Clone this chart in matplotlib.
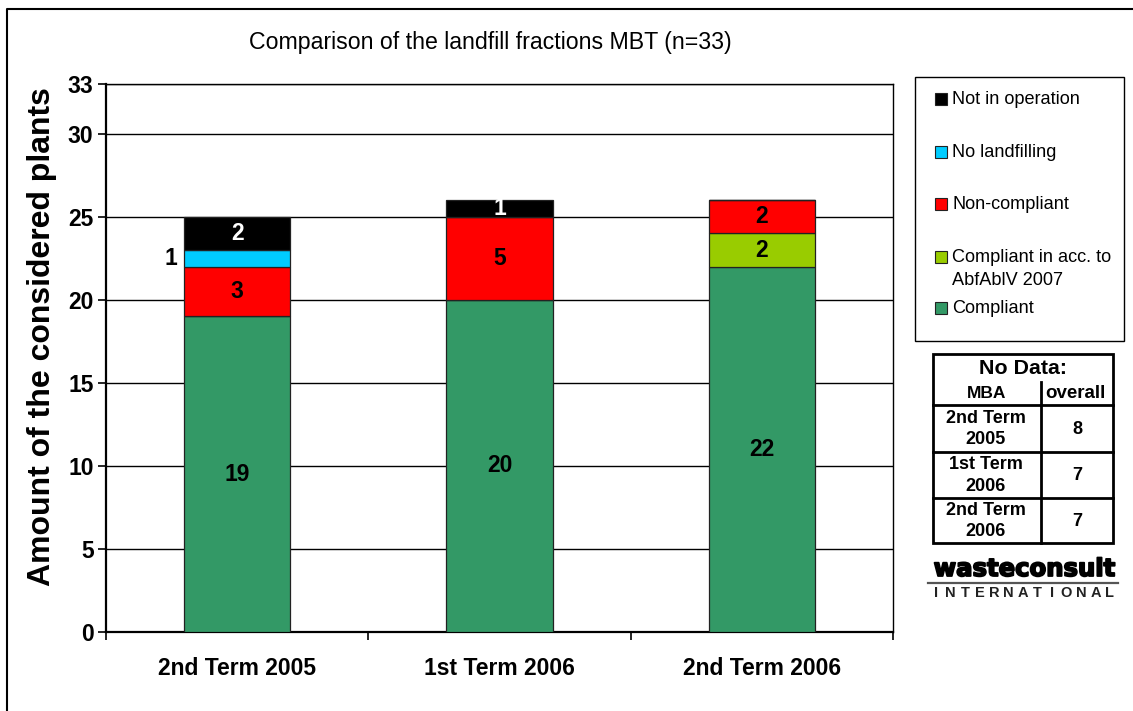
import matplotlib
matplotlib.use('Agg')
import matplotlib.pyplot as plt
from matplotlib.patches import Rectangle
import matplotlib.patheffects as pe
import numpy as np

plt.rcParams['font.family'] = ['Liberation Sans', 'DejaVu Sans']

# data
categories = ['2nd Term 2005', '1st Term 2006', '2nd Term 2006']
compliant = [19, 20, 22]
compliant_abf = [0, 0, 2]
non_compliant = [3, 5, 2]
no_landfilling = [1, 0, 0]
not_in_operation = [2, 1, 0]

series_names = ['Compliant', 'Compliant in acc. to\nAbfAblV 2007', 'Non-compliant',
                'No landfilling', 'Not in operation']
series_values = [compliant, compliant_abf, non_compliant, no_landfilling, not_in_operation]
series_colors = ['#339966', '#99CC00', '#FF0000', '#00CCFF', '#000000']
label_colors = ['black', 'black', 'black', 'black', 'white']

yticks = [0, 5, 10, 15, 20, 25, 30, 33]

table_rows = ['2nd Term\n2005', '1st Term\n2006', '2nd Term\n2006']
table_vals = [8, 7, 7]

W, H = 1133, 711
fig = plt.figure(figsize=(W / 100, H / 100), dpi=100)
ax = fig.add_axes([106 / W, 1 - 632 / H, (893 - 106) / W, (632 - 84) / H])

x = np.arange(len(categories))
bw = 0.405
bottom = np.zeros(len(categories))
for vals, col, lc in zip(series_values, series_colors, label_colors):
    vals = np.array(vals, dtype=float)
    ax.bar(x, vals, bw, bottom=bottom, color=col, edgecolor='#222222', linewidth=0.9, zorder=3)
    for i, v in enumerate(vals):
        if v <= 0:
            continue
        yc = bottom[i] + v / 2
        if v < 1.5 and col == '#00CCFF':
            ax.text(x[i] - bw / 2 - 0.025, yc, '%d' % v, ha='right', va='center',
                    fontsize=16.5, fontweight='bold', color='black', zorder=4)
        else:
            ax.text(x[i], yc, '%d' % v, ha='center', va='center',
                    fontsize=16.5, fontweight='bold', color=lc, zorder=4)
    bottom += vals

ax.set_xlim(-0.5, 2.5)
ax.set_ylim(0, 33)
ax.set_yticks(yticks)
ax.set_yticklabels([str(t) for t in yticks], fontsize=16.5, fontweight='bold')
ax.tick_params(axis='y', length=6, width=1.2, pad=3)
ax.yaxis.grid(True, color='black', linewidth=1.0, zorder=0)
ax.set_axisbelow(True)

ax.set_xticks(x)
ax.set_xticklabels(categories, fontsize=16.5, fontweight='bold')
ax.tick_params(axis='x', which='major', length=0, pad=18)
ax.set_xticks([-0.5, 0.5, 1.5, 2.5], minor=True)
ax.tick_params(axis='x', which='minor', length=6, width=1.2, direction='out')

for s in ['left', 'bottom']:
    ax.spines[s].set_linewidth(1.6)
for s in ['top', 'right']:
    ax.spines[s].set_linewidth(1.0)

ax.set_ylabel('Amount of the considered plants', fontsize=23, fontweight='bold')
ax.yaxis.set_label_coords(-0.062, 0.539)

# overlay in pixel coords
ov = fig.add_axes([0, 0, 1, 1], facecolor='none')
ov.set_xlim(0, W)
ov.set_ylim(H, 0)
ov.axis('off')

# outer border
ov.plot([7, 7, W], [H, 9, 9], color='black', linewidth=1.5)

ov.text(490, 42, 'Comparison of the landfill fractions MBT (n=33)', ha='center', va='center',
        fontsize=16.7)

# legend
ov.add_patch(Rectangle((915, 77), 209, 264, facecolor='white', edgecolor='black', linewidth=1.0))
leg_y = [99, 152, 204, 257, 308]
leg_order = [4, 3, 2, 1, 0]
for yy, k in zip(leg_y, leg_order):
    ov.add_patch(Rectangle((935, yy - 6), 12, 12, facecolor=series_colors[k],
                           edgecolor='#222222', linewidth=0.8))
    ov.text(952, yy - 8, series_names[k], ha='left', va='top', fontsize=13.1,
            linespacing=1.45)

# no data table
lw = 2.0
ov.add_patch(Rectangle((933, 354), 180, 189, facecolor='white', edgecolor='black', linewidth=lw))
for yy in [405, 452, 498]:
    ov.plot([933, 1113], [yy, yy], color='black', linewidth=lw)
ov.plot([1041, 1041], [382, 543], color='black', linewidth=lw)
ov.text(1023, 368, 'No Data:', ha='center', va='center', fontsize=15.4, fontweight='bold')
ov.text(987, 393, 'MBA', ha='center', va='center', fontsize=12.5, fontweight='bold')
ov.text(1075, 393, 'overall', ha='center', va='center', fontsize=13.5, fontweight='bold')
row_c = [429, 475.5, 521]
for yc, lab, v in zip(row_c, table_rows, table_vals):
    ov.text(986, yc, lab, ha='center', va='center', fontsize=13, fontweight='bold',
            linespacing=1.35)
    ov.text(1077, yc, str(v), ha='center', va='center', fontsize=13, fontweight='bold')

# logo
ov.text(1024, 569, 'wasteconsult', ha='center', va='center', fontsize=17.5, fontweight='heavy',
        family='DejaVu Sans',
        path_effects=[pe.withStroke(linewidth=1.3, foreground='black')])
ov.plot([928, 1118], [583, 583], color='#555555', linewidth=1.6)
letters = 'INTERNATIONAL'
lx = np.linspace(936, 1110, len(letters))
for ch, xx in zip(letters, lx):
    ov.text(xx, 593, ch, ha='center', va='center', fontsize=10.5, fontweight='bold', color='#222222')

fig.savefig('out.png', dpi=100)
